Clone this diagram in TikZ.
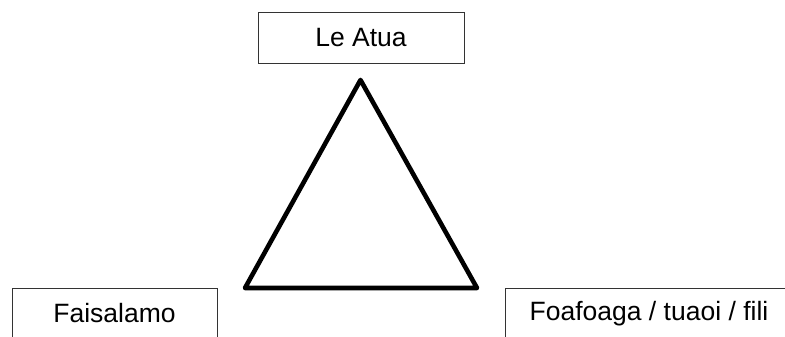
\documentclass[tikz,border=0pt]{standalone}
\usepackage{fontspec}
\setmainfont{Liberation Sans}
\begin{document}
\begin{tikzpicture}[x=1pt,y=-1pt,
  box/.style={draw=black!80, line width=0.9pt, fill=white, inner sep=0pt,
    font=\fontsize{26.5}{31}\selectfont, text=black},
  tri/.style={draw=black, line width=4.6pt, line join=round}]
\useasboundingbox (0,0) rectangle (785,337);
\clip (0,0) rectangle (785,337);
\node[box, minimum width=206pt, minimum height=51pt] (atua) at (361,37.5) {Le Atua};
\node[box, minimum width=205pt, minimum height=51pt] (fai) at (114.5,313.5) {Faisalamo};
\node[box, minimum width=288pt, minimum height=51pt] (foa) at (649,313.5) {Foafoaga / tuaoi / fili};
\coordinate (apex) at (360.5,80);
\coordinate (bl) at (245,288);
\coordinate (br) at (477,288);
\draw[tri] (apex) -- (bl) -- (br) -- cycle;
\end{tikzpicture}
\end{document}
